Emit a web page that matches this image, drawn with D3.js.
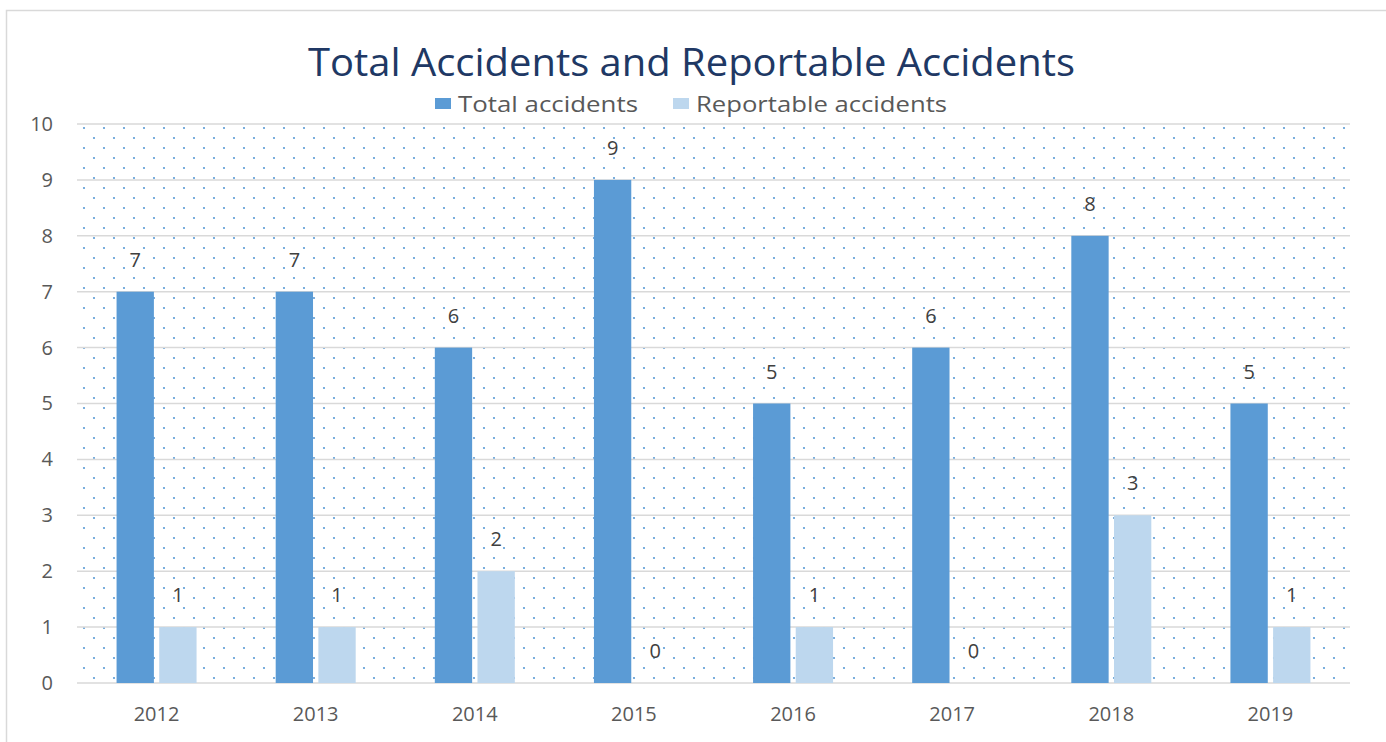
<!DOCTYPE html>
<html>
<head>
<meta charset="utf-8">
<script src="https://cdn.jsdelivr.net/npm/d3@7"></script>
<style>
  html, body { margin: 0; padding: 0; background: #fff; }
  svg { display: block; font-family: "Open Sans", "DejaVu Sans", sans-serif; }
</style>
</head>
<body>
<div id="chart"></div>
<script>
// ---------- Data ----------
const years = ["2012", "2013", "2014", "2015", "2016", "2017", "2018", "2019"];
const totalAccidents = [7, 7, 6, 9, 5, 6, 8, 5];
const reportableAccidents = [1, 1, 2, 0, 1, 0, 3, 1];
const seriesNames = ["Total accidents", "Reportable accidents"];
const yTicks = [0, 1, 2, 3, 4, 5, 6, 7, 8, 9, 10];

const colors = ["#5b9bd5", "#bdd7ee"];

// ---------- Layout ----------
const width = 1386, height = 742;
const plot = { left: 77, right: 1350, top: 124, bottom: 683 };

const svg = d3.select("#chart").append("svg")
  .attr("width", width)
  .attr("height", height);

// frame
svg.append("path")
  .attr("d", `M6.5,${height} V10.5 H${width}`)
  .attr("fill", "none")
  .attr("stroke", "#d9d9d9")
  .attr("stroke-width", 1.5);

// dotted pattern
const defs = svg.append("defs");
const pat = defs.append("pattern")
  .attr("id", "dots")
  .attr("patternUnits", "userSpaceOnUse")
  .attr("x", plot.left + 7)
  .attr("y", plot.top + 4)
  .attr("width", 20)
  .attr("height", 20);
[[0, 0], [20, 0], [0, 20], [20, 20], [10, 10]].forEach(([cx, cy]) => {
  pat.append("circle").attr("cx", cx).attr("cy", cy).attr("r", 1.1).attr("fill", "#5b9bd5");
});

svg.append("rect")
  .attr("x", plot.left)
  .attr("y", plot.top)
  .attr("width", plot.right - plot.left)
  .attr("height", plot.bottom - plot.top)
  .attr("fill", "url(#dots)");

// ---------- Scales ----------
const x0 = d3.scaleBand()
  .domain(years)
  .range([plot.left, plot.right])
  .paddingInner(0)
  .paddingOuter(0);

const groupWidth = 80;
const x1 = d3.scaleBand()
  .domain(seriesNames)
  .range([0, groupWidth])
  .paddingInner(0.125);

const y = d3.scaleLinear()
  .domain([0, 10])
  .range([plot.bottom, plot.top]);

// ---------- Grid ----------
svg.append("g")
  .selectAll("line")
  .data(yTicks)
  .join("line")
  .attr("x1", plot.left)
  .attr("x2", plot.right)
  .attr("y1", d => y(d))
  .attr("y2", d => y(d))
  .attr("stroke", "#d9d9d9")
  .attr("stroke-width", 1.5);

// ---------- Axes ----------
const yAxis = svg.append("g")
  .attr("transform", `translate(${plot.left - 24},0)`)
  .call(d3.axisLeft(y).tickValues(yTicks).tickSize(0).tickPadding(0));
yAxis.select(".domain").remove();
yAxis.selectAll("text")
  .attr("fill", "#595959")
  .attr("font-size", 20)
  .attr("font-family", "Open Sans, sans-serif");

const xAxis = svg.append("g")
  .attr("transform", `translate(0,${plot.bottom})`)
  .call(d3.axisBottom(x0).tickSize(0).tickPadding(24));
xAxis.select(".domain").remove();
xAxis.selectAll("text")
  .attr("fill", "#595959")
  .attr("font-size", 20)
  .attr("font-family", "Open Sans, sans-serif");

// ---------- Bars ----------
const rows = years.map((yr, i) => ({
  year: yr,
  values: [
    { key: seriesNames[0], value: totalAccidents[i], color: colors[0] },
    { key: seriesNames[1], value: reportableAccidents[i], color: colors[1] }
  ]
}));

const groups = svg.append("g")
  .selectAll("g")
  .data(rows)
  .join("g")
  .attr("transform", d => `translate(${x0(d.year) + (x0.bandwidth() - groupWidth) / 2},0)`);

groups.selectAll("rect")
  .data(d => d.values)
  .join("rect")
  .attr("x", d => x1(d.key))
  .attr("y", d => y(d.value))
  .attr("width", x1.bandwidth())
  .attr("height", d => y(0) - y(d.value))
  .attr("fill", d => d.color);

groups.selectAll("text")
  .data(d => d.values)
  .join("text")
  .attr("x", d => x1(d.key) + x1.bandwidth() / 2)
  .attr("y", d => y(d.value) - 25)
  .attr("text-anchor", "middle")
  .attr("fill", "#404040")
  .attr("font-size", 20)
  .text(d => d.value);

// ---------- Title ----------
svg.append("text")
  .attr("x", 308)
  .attr("y", 76)
  .attr("textLength", 767)
  .attr("lengthAdjust", "spacingAndGlyphs")
  .attr("fill", "#203864")
  .attr("font-size", 38)
  .text("Total Accidents and Reportable Accidents");

// ---------- Legend ----------
const legendItems = [
  { name: seriesNames[0], color: colors[0], x: 435, len: 180 },
  { name: seriesNames[1], color: colors[1], x: 673, len: 251 }
];
const legend = svg.append("g")
  .selectAll("g")
  .data(legendItems)
  .join("g")
  .attr("transform", d => `translate(${d.x},98)`);
legend.append("rect")
  .attr("width", 16)
  .attr("height", 11)
  .attr("fill", d => d.color);
legend.append("text")
  .attr("x", 23)
  .attr("y", 14)
  .attr("textLength", d => d.len)
  .attr("lengthAdjust", "spacingAndGlyphs")
  .attr("fill", "#595959")
  .attr("font-size", 21)
  .text(d => d.name);
</script>
</body>
</html>
